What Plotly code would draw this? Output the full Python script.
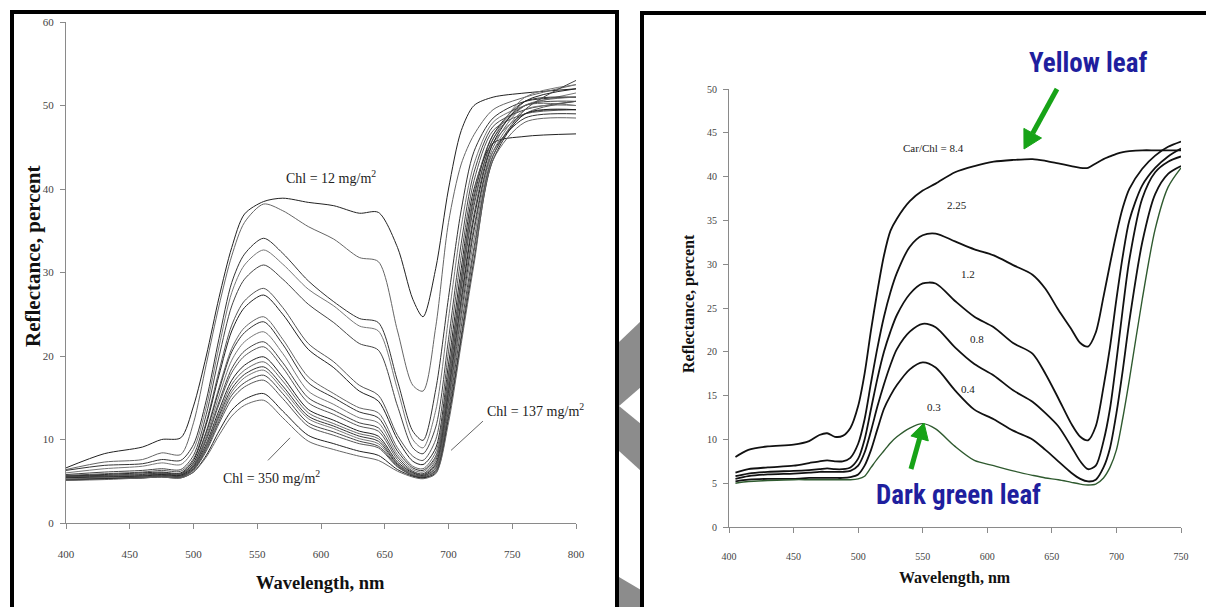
import plotly.graph_objects as go

W, H = 1206, 607

# ---------------- Left panel data (reflectance vs wavelength, ~20 leaves) -------------
wl_left = [400, 430, 460, 475, 490, 500, 510, 520, 530, 540, 555, 570, 590, 610, 630,
           645, 660, 672, 680, 690, 700, 710, 720, 735, 760, 800]

left_c01 = [6.6, 8.3, 9.1, 10.0, 10.2, 14.0, 20.0, 27.0, 33.0, 37.0, 38.5, 38.9, 38.4, 38.0, 37.1, 37.2, 33.0, 26.8, 24.7, 30.5, 40.0, 47.0, 50.0, 51.0, 51.5, 52.0]
left_c02 = [6.4, 7.3, 7.6, 8.4, 8.2, 12.0, 19.0, 26.0, 32.0, 36.0, 38.2, 37.4, 35.5, 34.0, 31.8, 31.3, 23.0, 16.5, 15.8, 23.5, 36.0, 43.0, 46.5, 49.5, 51.0, 52.5]
left_c03 = [6.3, 6.9, 7.1, 7.6, 7.5, 9.4, 14.7, 22.1, 28.8, 32.2, 34.1, 32.3, 29.0, 26.5, 24.5, 24.0, 17.0, 11.0, 9.9, 16.0, 27.0, 37.5, 44.5, 48.5, 50.5, 51.0]
left_c04 = [6.0, 6.5, 6.8, 7.2, 7.0, 8.8, 13.9, 21.1, 27.6, 30.9, 32.7, 31.0, 28.0, 26.0, 23.6, 23.0, 16.0, 10.0, 9.0, 13.5, 24.5, 35.5, 43.0, 48.0, 50.0, 51.5]
left_c05 = [5.8, 6.1, 6.3, 6.5, 6.4, 8.1, 13.0, 19.9, 26.0, 29.2, 30.9, 29.2, 26.2, 24.0, 21.5, 20.7, 14.0, 9.0, 8.3, 11.5, 22.0, 33.5, 42.0, 47.5, 49.5, 50.5]
left_c06 = [5.7, 5.9, 6.1, 6.3, 6.2, 7.7, 12.1, 18.2, 23.7, 26.6, 28.1, 25.8, 21.5, 19.3, 16.5, 15.3, 10.5, 8.0, 7.5, 10.0, 20.5, 32.0, 41.0, 47.0, 49.0, 49.5]
left_c07 = [5.6, 5.8, 6.0, 6.1, 6.0, 7.5, 11.8, 17.7, 23.0, 25.8, 27.3, 25.0, 20.8, 18.6, 15.8, 14.6, 10.0, 7.4, 7.0, 9.0, 19.0, 30.5, 40.0, 45.5, 46.3, 46.6]
left_c08 = [5.5, 5.7, 5.9, 6.0, 5.9, 7.2, 11.0, 16.2, 20.9, 23.4, 24.7, 22.0, 17.5, 15.5, 13.8, 13.2, 9.0, 6.8, 6.5, 8.5, 18.0, 29.5, 39.5, 46.5, 50.0, 50.0]
left_c09 = [5.6, 5.7, 5.8, 6.0, 5.9, 7.2, 10.8, 15.9, 20.5, 22.8, 24.1, 21.4, 16.8, 15.0, 13.3, 12.6, 8.6, 6.6, 6.3, 8.0, 17.5, 29.0, 39.0, 46.5, 50.5, 51.0]
left_c10 = [5.4, 5.6, 5.7, 5.9, 5.8, 7.0, 10.4, 15.2, 19.5, 21.7, 22.9, 20.3, 15.8, 14.2, 12.6, 12.0, 8.2, 6.4, 6.1, 7.8, 17.0, 28.5, 38.5, 46.0, 51.0, 52.5]
left_c11 = [5.5, 5.6, 5.7, 5.9, 5.8, 6.9, 10.1, 14.5, 18.5, 20.6, 21.7, 19.2, 15.0, 13.5, 12.0, 11.4, 7.9, 6.2, 5.9, 7.5, 16.5, 28.0, 38.0, 46.0, 50.0, 50.5]
left_c12 = [5.3, 5.5, 5.6, 5.8, 5.7, 6.8, 9.9, 14.2, 18.0, 20.0, 21.1, 18.6, 14.4, 13.0, 11.6, 11.0, 7.6, 6.1, 5.8, 7.2, 16.0, 27.0, 37.0, 45.5, 49.0, 49.5]
left_c13 = [5.4, 5.5, 5.6, 5.8, 5.7, 6.7, 9.5, 13.5, 17.1, 18.9, 19.9, 17.5, 13.6, 12.3, 11.0, 10.4, 7.3, 6.0, 5.7, 7.0, 15.5, 26.5, 36.5, 45.5, 50.5, 52.0]
left_c14 = [5.3, 5.4, 5.5, 5.7, 5.6, 6.6, 9.3, 13.1, 16.6, 18.3, 19.3, 17.0, 13.2, 11.9, 10.7, 10.1, 7.1, 5.9, 5.6, 6.8, 15.0, 26.0, 35.5, 45.0, 50.0, 51.0]
left_c15 = [5.2, 5.4, 5.5, 5.7, 5.6, 6.5, 9.1, 12.8, 16.1, 17.8, 18.7, 16.4, 12.8, 11.6, 10.4, 9.8, 7.0, 5.8, 5.6, 6.6, 14.5, 25.0, 35.0, 44.5, 48.5, 49.0]
left_c16 = [5.3, 5.4, 5.5, 5.6, 5.5, 6.4, 9.0, 12.5, 15.7, 17.4, 18.3, 16.0, 12.5, 11.3, 10.1, 9.5, 6.9, 5.8, 5.5, 6.5, 14.0, 24.5, 34.0, 44.5, 49.5, 50.0]
left_c17 = [5.2, 5.3, 5.5, 5.6, 5.5, 6.4, 8.8, 12.2, 15.3, 16.8, 17.7, 15.5, 12.0, 10.9, 9.8, 9.2, 6.8, 5.7, 5.5, 6.3, 13.5, 23.5, 33.0, 44.0, 49.5, 53.0]
left_c18 = [5.2, 5.3, 5.4, 5.6, 5.5, 6.3, 8.6, 11.9, 14.8, 16.3, 17.1, 14.9, 11.6, 10.5, 9.5, 9.0, 6.7, 5.7, 5.4, 6.2, 13.0, 22.5, 32.5, 44.0, 49.0, 50.5]
left_c19 = [5.1, 5.3, 5.4, 5.5, 5.4, 6.1, 8.1, 11.0, 13.5, 14.8, 15.5, 13.4, 10.5, 9.5, 8.6, 8.1, 6.4, 5.6, 5.4, 6.0, 12.5, 22.0, 31.5, 43.5, 49.0, 49.5]
left_c20 = [5.1, 5.2, 5.4, 5.5, 5.4, 6.1, 7.9, 10.5, 12.8, 14.1, 14.7, 12.6, 9.8, 8.8, 8.0, 7.5, 6.2, 5.5, 5.3, 5.9, 12.0, 21.5, 31.0, 43.5, 48.0, 48.5]

left_series = [left_c01, left_c02, left_c03, left_c04, left_c05, left_c06, left_c07,
               left_c08, left_c09, left_c10, left_c11, left_c12, left_c13, left_c14,
               left_c15, left_c16, left_c17, left_c18, left_c19, left_c20]

# ---------------- Right panel data (Car/Chl ratio series) -------------
wl_right = [405, 415, 430, 450, 462, 470, 476, 482, 488, 494, 500, 505, 510, 515, 520, 525,
            530, 540, 550, 560, 575, 590, 605, 620, 635, 645, 655, 665, 672, 678, 684, 690,
            695, 700, 705, 710, 720, 730, 740, 750]

r_84 = [8.0, 8.8, 9.2, 9.4, 9.8, 10.5, 10.7, 10.3, 10.4, 11.3, 13.8, 17.5, 22.5, 27.0, 31.0, 33.8,
        35.2, 37.2, 38.4, 39.2, 40.5, 41.2, 41.7, 41.9, 42.0, 41.8, 41.5, 41.2, 41.0, 41.0, 41.5, 42.0,
        42.3, 42.6, 42.8, 42.9, 43.0, 43.0, 43.0, 43.0]
r_225 = [6.2, 6.6, 6.8, 7.0, 7.3, 7.5, 7.6, 7.5, 7.5, 7.9, 9.5, 12.3, 16.5, 20.5, 24.0, 26.8,
         29.0, 32.0, 33.3, 33.5, 32.6, 31.7, 31.0, 29.9, 28.8, 27.2, 24.8, 22.6, 21.0, 20.6, 22.2, 26.3,
         30.0, 33.5, 36.5, 38.6, 40.9, 42.4, 43.4, 44.0]
r_12 = [5.8, 6.1, 6.3, 6.4, 6.5, 6.6, 6.7, 6.6, 6.6, 6.8, 7.8, 10.0, 13.5, 17.0, 20.0, 22.3,
        24.2, 26.6, 27.8, 27.8, 25.8, 24.0, 22.8, 21.0, 19.8, 17.5, 14.7, 11.8, 10.3, 9.9, 11.5, 16.0,
        20.5, 26.0, 31.0, 35.0, 39.0, 41.0, 42.3, 43.2]
r_08 = [5.5, 5.8, 6.0, 6.1, 6.2, 6.3, 6.3, 6.3, 6.3, 6.4, 7.0, 8.5, 11.0, 13.8, 16.3, 18.5,
        20.3, 22.3, 23.2, 22.8, 20.5, 18.6, 17.3, 15.6, 14.3, 13.0, 11.5, 9.2, 7.5, 6.6, 7.0, 9.8,
        13.5, 19.0, 25.0, 30.5, 37.5, 40.5, 41.7, 42.3]
r_04 = [5.2, 5.4, 5.5, 5.5, 5.6, 5.6, 5.6, 5.6, 5.6, 5.7, 6.0, 7.0, 8.8, 11.2, 13.5, 15.0,
        16.2, 18.0, 18.8, 18.2, 15.6, 13.4, 12.3, 11.0, 10.0, 8.8, 7.5, 6.2, 5.5, 5.2, 5.4, 6.8,
        9.0, 13.0, 18.0, 23.5, 32.5, 38.0, 40.3, 41.2]
r_03 = [5.0, 5.2, 5.3, 5.4, 5.4, 5.4, 5.4, 5.4, 5.4, 5.4, 5.5, 5.8, 6.8, 7.8, 8.7, 9.6,
        10.3, 11.3, 11.8, 11.2, 9.2, 7.6, 7.0, 6.4, 5.9, 5.6, 5.4, 5.1, 4.9, 4.8, 4.9, 5.6,
        6.8, 8.8, 12.5, 16.8, 26.0, 34.0, 38.8, 41.0]

right_series = [r_84, r_225, r_12, r_08, r_04, r_03]
right_labels = ["Car/Chl = 8.4", "2.25", "1.2", "0.8", "0.4", "0.3"]
right_label_x = [558, 576.5, 585, 592.3, 585, 558.7]
right_label_y = [43.3, 36.8, 28.9, 21.5, 15.8, 13.7]

x_ticks_left = [400, 450, 500, 550, 600, 650, 700, 750, 800]
y_ticks_left = [0, 10, 20, 30, 40, 50, 60]
x_ticks_right = [400, 450, 500, 550, 600, 650, 700, 750]
y_ticks_right = [0, 5, 10, 15, 20, 25, 30, 35, 40, 45, 50]

# ---------------- helpers ----------------
def px(x):
    return x / W

def py(y):
    return 1 - y / H

SERIF = "Liberation Serif, Times New Roman, serif"
NARROW = "Liberation Sans Narrow, Arial Narrow, Roboto Condensed, Liberation Sans, sans-serif"

fig = go.Figure()

left_colors = ["#222222", "#666666", "#333333", "#777777", "#444444", "#555555"]
for i, s in enumerate(left_series):
    fig.add_trace(go.Scatter(
        x=wl_left, y=s, mode="lines", xaxis="x", yaxis="y",
        line=dict(color=left_colors[i % len(left_colors)], width=1, shape="spline", smoothing=0.8),
        showlegend=False, hoverinfo="skip"))

for i, s in enumerate(right_series):
    green = (i == len(right_series) - 1)
    fig.add_trace(go.Scatter(
        x=wl_right, y=s, mode="lines", xaxis="x2", yaxis="y2",
        line=dict(color="#2f5a2f" if green else "#111111", width=1.4 if green else 1.8,
                  shape="spline", smoothing=0.8),
        showlegend=False, hoverinfo="skip"))

axis_common = dict(showgrid=False, zeroline=False, showline=True, linecolor="#8a8a8a",
                   linewidth=1, ticks="outside", tickcolor="#8a8a8a", ticklen=5, tickwidth=1,
                   automargin=False, fixedrange=True)

fig.update_layout(
    width=W, height=H, autosize=False,
    margin=dict(l=0, r=0, t=0, b=0, pad=0, autoexpand=False),
    paper_bgcolor="white", plot_bgcolor="white",
    showlegend=False,
    xaxis=dict(domain=[px(66), px(576)], range=[400, 800], tickvals=x_ticks_left,
               anchor="y", tickfont=dict(family=SERIF, size=11, color="#444"),
               ticklabelstandoff=16, **axis_common),
    yaxis=dict(domain=[py(523), py(22)], range=[0, 60], tickvals=y_ticks_left,
               anchor="x", tickfont=dict(family=SERIF, size=11, color="#444"),
               ticklabelstandoff=4, **axis_common),
    xaxis2=dict(domain=[px(729), px(1181)], range=[400, 750], tickvals=x_ticks_right,
                anchor="y2", tickfont=dict(family=SERIF, size=10, color="#444"),
                ticklabelstandoff=15, **axis_common),
    yaxis2=dict(domain=[py(527), py(89)], range=[0, 50], tickvals=y_ticks_right,
                anchor="x2", tickfont=dict(family=SERIF, size=10, color="#444"),
                ticklabelstandoff=4, **axis_common),
)

shapes = []
# gray chevron pieces between the two panels
gray = "#8c8c8c"
shapes.append(dict(type="path", xref="paper", yref="paper", layer="below",
                   path=f"M {px(619)} {py(342)} L {px(641)} {py(321)} L {px(641)} {py(387)} L {px(619)} {py(406)} Z",
                   fillcolor=gray, line=dict(width=0)))
shapes.append(dict(type="path", xref="paper", yref="paper", layer="below",
                   path=f"M {px(619)} {py(406)} L {px(641)} {py(424)} L {px(641)} {py(471)} L {px(619)} {py(451)} Z",
                   fillcolor=gray, line=dict(width=0)))
shapes.append(dict(type="path", xref="paper", yref="paper", layer="below",
                   path=f"M {px(619)} {py(577)} L {px(641)} {py(590)} L {px(641)} {py(610)} L {px(619)} {py(610)} Z",
                   fillcolor=gray, line=dict(width=0)))
# panel frames
frame = dict(color="black", width=4)
shapes.append(dict(type="line", xref="paper", yref="paper", x0=px(12), x1=px(12), y0=py(10), y1=py(620), line=frame))
shapes.append(dict(type="line", xref="paper", yref="paper", x0=px(10), x1=px(619), y0=py(12), y1=py(12), line=frame))
shapes.append(dict(type="line", xref="paper", yref="paper", x0=px(617), x1=px(617), y0=py(10), y1=py(620), line=frame))
shapes.append(dict(type="line", xref="paper", yref="paper", x0=px(642), x1=px(642), y0=py(11), y1=py(620), line=frame))
shapes.append(dict(type="line", xref="paper", yref="paper", x0=px(640), x1=px(1220), y0=py(13), y1=py(13), line=frame))
# leader lines for Chl labels
shapes.append(dict(type="line", xref="x", yref="y", x0=727, y0=12.2, x1=702, y1=8.7,
                   line=dict(color="#666", width=1)))
shapes.append(dict(type="line", xref="x", yref="y", x0=558.4, y0=7.5, x1=575.7, y1=10.2,
                   line=dict(color="#666", width=1)))
# green callout arrows (shaft + filled head)
arrow_green = "#17a317"
shapes.append(dict(type="line", xref="paper", yref="paper", x0=px(1057), y0=py(89), x1=px(1032.7), y1=py(133.2),
                   line=dict(color=arrow_green, width=5)))
shapes.append(dict(type="path", xref="paper", yref="paper",
                   path=f"M {px(1024)} {py(149)} L {px(1041.5)} {py(138.0)} L {px(1023.9)} {py(128.4)} Z",
                   fillcolor=arrow_green, line=dict(color=arrow_green, width=1)))
shapes.append(dict(type="line", xref="paper", yref="paper", x0=px(911), y0=py(469), x1=px(919.6), y1=py(438.4),
                   line=dict(color=arrow_green, width=5)))
shapes.append(dict(type="path", xref="paper", yref="paper",
                   path=f"M {px(924)} {py(423)} L {px(928.3)} {py(440.9)} L {px(910.9)} {py(435.9)} Z",
                   fillcolor=arrow_green, line=dict(color=arrow_green, width=1)))
fig.update_layout(shapes=shapes)

ann = []
def center_text(text, x, y, size, family=SERIF, color="#111", angle=0):
    return dict(text=text, xref="paper", yref="paper", x=px(x), y=py(y), textangle=angle,
                showarrow=False, font=dict(family=family, size=size, color=color),
                xanchor="center", yanchor="middle")

# axis titles
ann.append(center_text("<b>Reflectance, percent</b>", 33, 256, 21, angle=-90))
ann.append(center_text("<b>Wavelength, nm</b>", 320, 583, 18.5))
ann.append(center_text("<b>Reflectance, percent</b>", 689, 304, 16, angle=-90))
ann.append(center_text("<b>Wavelength, nm</b>", 955, 578, 16))
# left labels
ann.append(dict(text="Chl = 12 mg/m<sup>2</sup>", xref="x", yref="y", x=607.7, y=41.4, showarrow=False,
                xanchor="center", yanchor="middle", font=dict(family=SERIF, size=14, color="#222")))
ann.append(dict(text="Chl = 137 mg/m<sup>2</sup>", xref="x", yref="y", x=768.6, y=13.5, showarrow=False,
                xanchor="center", yanchor="middle", font=dict(family=SERIF, size=14, color="#222")))
ann.append(dict(text="Chl = 350 mg/m<sup>2</sup>", xref="x", yref="y", x=560.8, y=5.5, showarrow=False,
                xanchor="center", yanchor="middle", font=dict(family=SERIF, size=14, color="#222")))
# right labels
for t, lx, ly in zip(right_labels, right_label_x, right_label_y):
    ann.append(dict(text=t, xref="x2", yref="y2", x=lx, y=ly, showarrow=False,
                    xanchor="center", yanchor="middle", font=dict(family=SERIF, size=11, color="#222")))
# callouts
ann.append(center_text("<b>Yellow leaf</b>", 1088, 63, 27, family=NARROW, color="#1f1f9e"))
ann.append(center_text("<b>Dark green leaf</b>", 958, 495, 27, family=NARROW, color="#1f1f9e"))
fig.update_layout(annotations=ann)

fig.write_html("out.html", config={"displayModeBar": False},
               post_script="document.body.style.margin='0';document.body.style.overflow='hidden';")
